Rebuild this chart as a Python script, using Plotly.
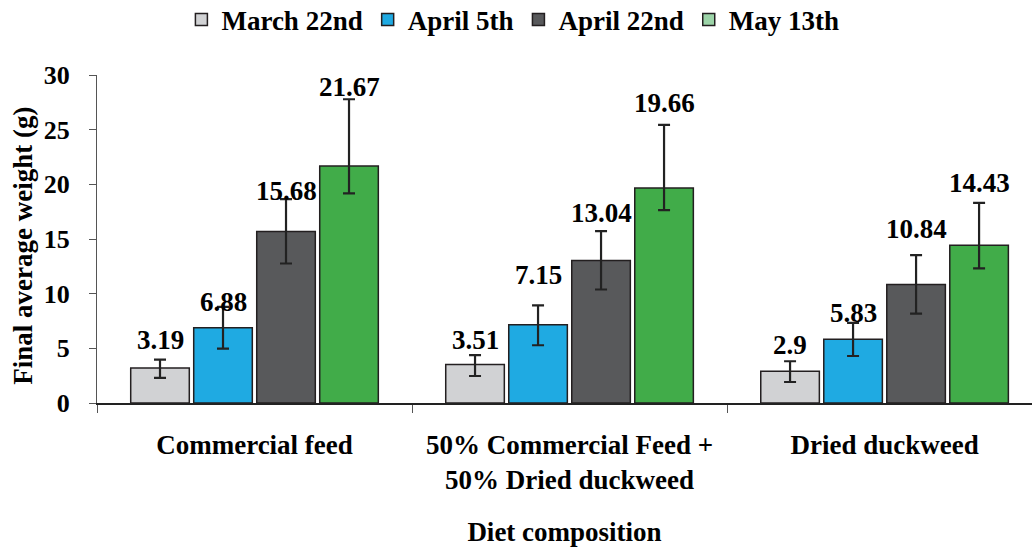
import plotly.graph_objects as go

# ---- data ----
categories = ["Commercial feed", "50% Commercial Feed +<br>50% Dried duckweed", "Dried duckweed"]
dates = ["March 22nd", "April 5th", "April 22nd", "May 13th"]

march22 = [3.19, 3.51, 2.9]
april5 = [6.88, 7.15, 5.83]
april22 = [15.68, 13.04, 10.84]
may13 = [21.67, 19.66, 14.43]

# error bars (upper / lower)
march22_err_up = [0.78, 0.86, 0.92]
march22_err_dn = [0.90, 1.04, 0.98]
april5_err_up = [1.91, 1.77, 1.50]
april5_err_dn = [1.90, 1.87, 1.53]
april22_err_up = [2.97, 2.68, 2.69]
april22_err_dn = [2.92, 2.66, 2.66]
may13_err_up = [6.11, 5.77, 3.88]
may13_err_dn = [2.50, 2.01, 2.12]

# heights at which the value labels sit (data units)
march22_lbl = [5.74, 5.80, 5.28]
april5_lbl = [9.22, 11.70, 8.19]
april22_lbl = [19.39, 17.34, 15.90]
may13_lbl = [28.90, 27.47, 20.09]

y_ticks = [0, 5, 10, 15, 20, 25, 30]
x_title = "Diet composition"
y_title = "Final average weight (g)"

# ---- style ----
FONT = "Liberation Serif"
colors = ["#D1D2D4", "#1FAAE2", "#58595B", "#41AC49"]
legend_colors = ["#D1D2D4", "#1FAAE2", "#58595B", "#9CD4A8"]
edge = "#231F20"

series = [march22, april5, april22, may13]
err_up = [march22_err_up, april5_err_up, april22_err_up, may13_err_up]
err_dn = [march22_err_dn, april5_err_dn, april22_err_dn, may13_err_dn]
lbls = [march22_lbl, april5_lbl, april22_lbl, may13_lbl]

bargap = 0.2
groupgap = 0.07
n = len(series)

fig = go.Figure()
for i, (name, vals) in enumerate(zip(dates, series)):
    fig.add_trace(go.Bar(
        x=categories, y=vals, name=name, offsetgroup=str(i),
        marker=dict(color=colors[i], line=dict(color=edge, width=1.5)),
        error_y=dict(type="data", symmetric=False, array=err_up[i], arrayminus=err_dn[i],
                     color="#222222", thickness=2.2, width=6),
        showlegend=False,
    ))
    # legend-only entry: same slot, no values, so nothing is drawn in the plot
    fig.add_trace(go.Bar(
        x=categories, y=[None] * len(categories), name=name, offsetgroup=str(i),
        marker=dict(color=legend_colors[i], line=dict(color=edge, width=1.5)),
        showlegend=True, hoverinfo="skip",
    ))

# value labels
slot = (1 - bargap) / n
for i, vals in enumerate(series):
    off = -(1 - bargap) / 2 + slot * (i + 0.5)
    for j, v in enumerate(vals):
        fig.add_annotation(x=j + off, y=lbls[i][j], text=f"{v:g}", showarrow=False,
                           xref="x", yref="y", xanchor="center", yanchor="middle",
                           font=dict(family=FONT, size=27, color="black", weight="bold"))

# y-axis title
fig.add_annotation(x=-0.08, y=0.48, xref="paper", yref="paper", text=y_title,
                   textangle=-90, showarrow=False, xanchor="center", yanchor="middle",
                   font=dict(family=FONT, size=27, color="black", weight="bold"))

fig.update_layout(
    width=1032, height=550,
    margin=dict(l=97, r=0, t=75, b=147, autoexpand=False),
    paper_bgcolor="white", plot_bgcolor="white",
    font=dict(family=FONT, size=24, color="black", weight="bold"),
    barmode="group", bargap=bargap, bargroupgap=groupgap,
    legend=dict(orientation="h", xref="container", yref="paper",
                x=0.497, xanchor="center", y=1.168, yanchor="middle",
                font=dict(family=FONT, size=27, color="black", weight="bold"),
                itemwidth=30, traceorder="normal"),
    xaxis=dict(
        type="category", range=[-0.5, 2.468],
        showline=True, linecolor="#222222", linewidth=1.5,
        ticks="outside", tickson="boundaries", ticklen=8, tickcolor="#555555", tickwidth=1,
        showgrid=False, zeroline=False,
        tickfont=dict(family=FONT, size=27, color="black", weight="bold"),
        ticklabelstandoff=17,
        title=dict(text=x_title, standoff=28,
                   font=dict(family=FONT, size=27, color="black", weight="bold")),
    ),
    yaxis=dict(
        range=[0, 30], tickvals=y_ticks,
        showline=True, linecolor="#555555", linewidth=1,
        ticks="outside", ticklen=7, tickcolor="#555555", tickwidth=1,
        showgrid=False, zeroline=False,
        tickfont=dict(family=FONT, size=26, color="black", weight="bold"),
        ticklabelstandoff=14,
    ),
)

fig.write_html("out.html", config={"displayModeBar": False},
               post_script="document.body.style.margin='0';document.body.style.padding='0';")
